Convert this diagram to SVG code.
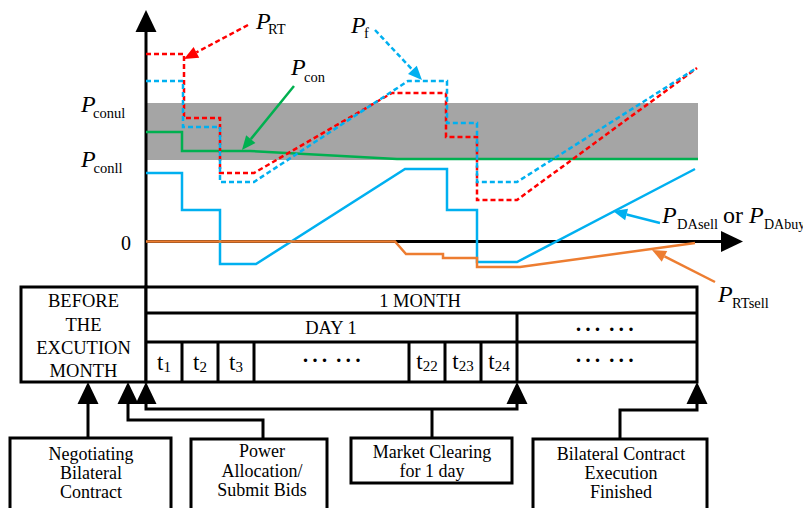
<svg xmlns="http://www.w3.org/2000/svg" width="803" height="508" viewBox="0 0 803 508">
  <style>
    text { font-family: "Liberation Serif", "Times New Roman", serif; fill: #000; }
    .lbl { font-size: 18.5px; text-anchor: middle; }
    .step { font-size: 18px; }
    .p { font-style: italic; font-size: 24px; }
    .sub { font-size: 14.5px; }
    .tt { font-size: 23px; text-anchor: middle; }
    .ts { font-size: 15px; }
    .dots { font-size: 21px; font-weight: bold; letter-spacing: 2.5px; word-spacing: -3px; text-anchor: middle; }
    .box { fill: #fff; stroke: #000; stroke-width: 3; }
    .ln { fill: none; stroke: #000; stroke-width: 3; }
    .curve { fill: none; stroke-width: 2.5; }
    .dash { stroke-dasharray: 5 3; }
    .red { stroke: #ff0000; }
    .blue { stroke: #00b0f0; }
    .green { stroke: #00b050; }
    .orange { stroke: #ed7d31; }
  </style>
  <defs>
    <marker id="ah" markerUnits="userSpaceOnUse" markerWidth="23" markerHeight="21" refX="0" refY="10.5" orient="auto-start-reverse" overflow="visible">
      <path d="M0,0 L22,10.5 L0,21 z" fill="#000"/>
    </marker>
    <marker id="ah-red" markerUnits="userSpaceOnUse" markerWidth="14" markerHeight="12" refX="0" refY="6" orient="auto" overflow="visible">
      <path d="M0,0 L14,6 L0,12 z" fill="#ff0000"/>
    </marker>
    <marker id="ah-blue" markerUnits="userSpaceOnUse" markerWidth="14" markerHeight="12" refX="0" refY="6" orient="auto" overflow="visible">
      <path d="M0,0 L14,6 L0,12 z" fill="#00b0f0"/>
    </marker>
    <marker id="ah-green" markerUnits="userSpaceOnUse" markerWidth="14" markerHeight="12" refX="0" refY="6" orient="auto" overflow="visible">
      <path d="M0,0 L14,6 L0,12 z" fill="#00b050"/>
    </marker>
    <marker id="ah-orange" markerUnits="userSpaceOnUse" markerWidth="14" markerHeight="12" refX="0" refY="6" orient="auto" overflow="visible">
      <path d="M0,0 L14,6 L0,12 z" fill="#ed7d31"/>
    </marker>
  </defs>

  <!-- price chart -->
  <g id="chart">
    <rect id="contract-band" x="146" y="103" width="552" height="57" fill="#a5a5a5"/>
    <path class="ln" d="M146,287 V32" marker-end="url(#ah)"/>
    <path class="ln" d="M146,241.5 H721" marker-end="url(#ah)"/>
    <path id="p-con" class="curve green" d="M146,132 H182 V151 H250 L397,159 H698"/>
    <path id="p-rt" class="curve dash red" d="M146,54 H184 V118 H220 V173 H254 L392,93 H446 V137 H477 V200 H517 L697,68"/>
    <path id="p-f" class="curve dash blue" d="M146,81 H183 V127 H220 V182 H254 L408,81 H447 V123 H477 V182 H517 L695,69"/>
    <path id="p-da" class="curve blue" d="M146,173 H182 V210 H220 V264 H256 L405,169 H447 V210 H477 V262 H517 L695,169"/>
    <path id="p-rtsell" class="curve orange" d="M146,241.5 H395 L406,254 H443 V258 H477 V267 H520 L695,243"/>

    <!-- label leaders -->
    <path class="curve dash red" d="M248,25 L196.4,52.4" marker-end="url(#ah-red)"/>
    <path class="curve dash blue" d="M375,30 L412.4,69.8" marker-end="url(#ah-blue)"/>
    <path class="curve green" d="M294,86 L250.8,139.1" marker-end="url(#ah-green)"/>
    <path class="curve blue" d="M660,223 L626.6,214.5" marker-end="url(#ah-blue)"/>
    <path class="curve orange" d="M715,282 L664.5,256.3" marker-end="url(#ah-orange)"/>

    <!-- labels -->
    <text><tspan class="p" x="256" y="29">P</tspan><tspan class="sub" x="268" y="33.5">RT</tspan></text>
    <text><tspan class="p" x="351" y="33">P</tspan><tspan class="sub" x="364" y="38">f</tspan></text>
    <text><tspan class="p" x="291" y="75">P</tspan><tspan class="sub" x="304" y="81.5">con</tspan></text>
    <text><tspan class="p" x="81" y="112">P</tspan><tspan class="sub" x="93" y="118">conul</tspan></text>
    <text><tspan class="p" x="81" y="167">P</tspan><tspan class="sub" x="93.5" y="173">conll</tspan></text>
    <text x="121" y="250" font-size="20">0</text>
    <text><tspan class="p" x="662" y="223">P</tspan><tspan class="sub" x="677" y="229">DAsell</tspan><tspan x="723" y="223" font-size="24">or</tspan><tspan class="p" x="749" y="223">P</tspan><tspan x="764" y="229" font-size="14px">DAbuy</tspan></text>
    <text><tspan class="p" x="718" y="302">P</tspan><tspan class="sub" x="732" y="308">RTsell</tspan></text>
  </g>

  <!-- timeline table -->
  <g id="before-month">
    <rect class="box" x="21" y="287" width="125" height="95"/>
    <text class="lbl" x="83.5" y="307">BEFORE</text>
    <text class="lbl" x="83.5" y="331">THE</text>
    <text class="lbl" x="83.5" y="354">EXCUTION</text>
    <text class="lbl" x="83.5" y="377">MONTH</text>
  </g>
  <g id="month">
    <rect class="box" x="146" y="287" width="551" height="95"/>
    <path class="ln" d="M146,313 H697 M146,342 H697 M517,313 V382 M182,342 V382 M218,342 V382 M254,342 V382 M409,342 V382 M445,342 V382 M481,342 V382"/>
    <text class="lbl" x="420" y="307">1 MONTH</text>
    <text class="lbl" x="331" y="334">DAY 1</text>
    <text class="tt" x="164" y="370">t<tspan class="ts" dy="2">1</tspan></text>
    <text class="tt" x="200" y="370">t<tspan class="ts" dy="2">2</tspan></text>
    <text class="tt" x="236" y="370">t<tspan class="ts" dy="2">3</tspan></text>
    <text class="dots" x="333" y="367">··· ···</text>
    <text class="tt" x="427" y="369">t<tspan class="ts" dy="2">22</tspan></text>
    <text class="tt" x="463" y="369">t<tspan class="ts" dy="2">23</tspan></text>
    <text class="tt" x="499" y="369">t<tspan class="ts" dy="2">24</tspan></text>
    <text class="dots" x="606" y="336">··· ···</text>
    <text class="dots" x="606" y="367">··· ···</text>
  </g>

  <!-- process steps -->
  <g id="negotiating">
    <rect class="box" x="10" y="438" width="161" height="82"/>
    <text class="lbl step" x="91" y="460">Negotiating</text>
    <text class="lbl step" x="91" y="479">Bilateral</text>
    <text class="lbl step" x="91" y="497.5">Contract</text>
  </g>
  <g id="power-allocation">
    <rect class="box" x="191" y="439" width="136" height="81"/>
    <text class="lbl step" x="262" y="457">Power</text>
    <text class="lbl step" x="262" y="476.5">Allocation/</text>
    <text class="lbl step" x="262" y="495.5">Submit Bids</text>
  </g>
  <g id="market-clearing">
    <rect class="box" x="351" y="438" width="161" height="45"/>
    <text class="lbl step" x="432" y="458">Market Clearing</text>
    <text class="lbl step" x="432" y="477">for 1 day</text>
  </g>
  <g id="execution-finished">
    <rect class="box" x="533" y="439" width="174" height="81"/>
    <text class="lbl step" x="621" y="459.5">Bilateral Contract</text>
    <text class="lbl step" x="621" y="478.5">Execution</text>
    <text class="lbl step" x="621" y="497.5">Finished</text>
  </g>

  <g id="connectors">
    <path class="ln" d="M88,438 V404" marker-end="url(#ah)"/>
    <path class="ln" d="M263,439 V420 H128 V404" marker-end="url(#ah)"/>
    <path class="ln" d="M146,404 V409 H517 V404" marker-start="url(#ah)" marker-end="url(#ah)"/>
    <path class="ln" d="M432,438 V409"/>
    <path class="ln" d="M620,439 V410 H697 V404" marker-end="url(#ah)"/>
  </g>
</svg>
